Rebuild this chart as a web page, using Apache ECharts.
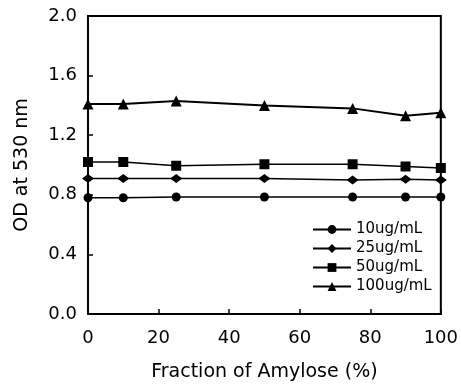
<!DOCTYPE html>
<html>
<head>
<meta charset="utf-8">
<script src="https://cdn.jsdelivr.net/npm/echarts@6/dist/echarts.min.js"></script>
<style>html,body{margin:0;padding:0;background:#fff}#c{width:461px;height:387px}</style>
</head>
<body>
<div id="c"></div>
<script>
const xValues = [0, 10, 25, 50, 75, 90, 100];
const s10 = [0.78, 0.78, 0.785, 0.785, 0.785, 0.785, 0.785];
const s25 = [0.91, 0.91, 0.91, 0.91, 0.90, 0.905, 0.90];
const s50 = [1.02, 1.02, 0.995, 1.005, 1.005, 0.99, 0.98];
const s100 = [1.41, 1.41, 1.43, 1.40, 1.38, 1.33, 1.35];
const seriesNames = ['10ug/mL', '25ug/mL', '50ug/mL', '100ug/mL'];
const xTicks = [0, 20, 40, 60, 80, 100];
const yTicks = [0.0, 0.4, 0.8, 1.2, 1.6, 2.0];

const font = 'DejaVu Sans';
const pair = arr => xValues.map((x, i) => [x, arr[i]]);
const wideDiamond = 'path://M0,5L7,0L14,5L7,10Z';

const chart = echarts.init(document.getElementById('c'));
chart.setOption({
  animation: false,
  backgroundColor: '#fff',
  grid: { left: 88, right: 17, top: 16, bottom: 70, show: true, borderColor: '#000', borderWidth: 2, backgroundColor: 'transparent' },
  xAxis: {
    type: 'value', min: 0, max: 100, interval: 20,
    name: 'Fraction of Amylose (%)', nameLocation: 'middle', nameGap: 49,
    nameTextStyle: { fontFamily: font, fontSize: 19, color: '#000' },
    axisLine: { lineStyle: { color: '#000', width: 2 } },
    axisTick: { inside: true, length: 5, lineStyle: { color: '#000', width: 1.5 } },
    axisLabel: { fontFamily: font, fontSize: 18, color: '#000', margin: 15,
      customValues: xTicks },
    splitLine: { show: false }
  },
  yAxis: {
    type: 'value', min: 0, max: 2.0, interval: 0.4,
    name: 'OD at 530 nm', nameLocation: 'middle', nameGap: 56,
    nameTextStyle: { fontFamily: font, fontSize: 19, color: '#000' },
    axisLine: { show: true, lineStyle: { color: '#000', width: 2 } },
    axisTick: { show: true, inside: true, length: 5, lineStyle: { color: '#000', width: 1.5 } },
    axisLabel: { fontFamily: font, fontSize: 18, color: '#000', margin: 11,
      formatter: v => v.toFixed(1) },
    splitLine: { show: false }
  },
  legend: {
    orient: 'vertical', left: 312, top: 222, padding: 0,
    itemWidth: 38, itemHeight: 11, itemGap: 4,
    data: seriesNames,
    textStyle: { fontFamily: font, fontSize: 15, color: '#000', lineHeight: 15 },
    inactiveColor: '#000'
  },
  series: [
    { name: seriesNames[0], type: 'line', data: pair(s10), symbol: 'circle', symbolSize: 9,
      lineStyle: { color: '#000', width: 1.5 }, itemStyle: { color: '#000' } },
    { name: seriesNames[1], type: 'line', data: pair(s25), symbol: wideDiamond, symbolSize: [12, 9],
      lineStyle: { color: '#000', width: 1.5 }, itemStyle: { color: '#000' } },
    { name: seriesNames[2], type: 'line', data: pair(s50), symbol: 'rect', symbolSize: 10,
      lineStyle: { color: '#000', width: 1.5 }, itemStyle: { color: '#000' } },
    { name: seriesNames[3], type: 'line', data: pair(s100), symbol: 'triangle', symbolSize: 11,
      lineStyle: { color: '#000', width: 2 }, itemStyle: { color: '#000' } }
  ]
});
</script>
</body>
</html>
